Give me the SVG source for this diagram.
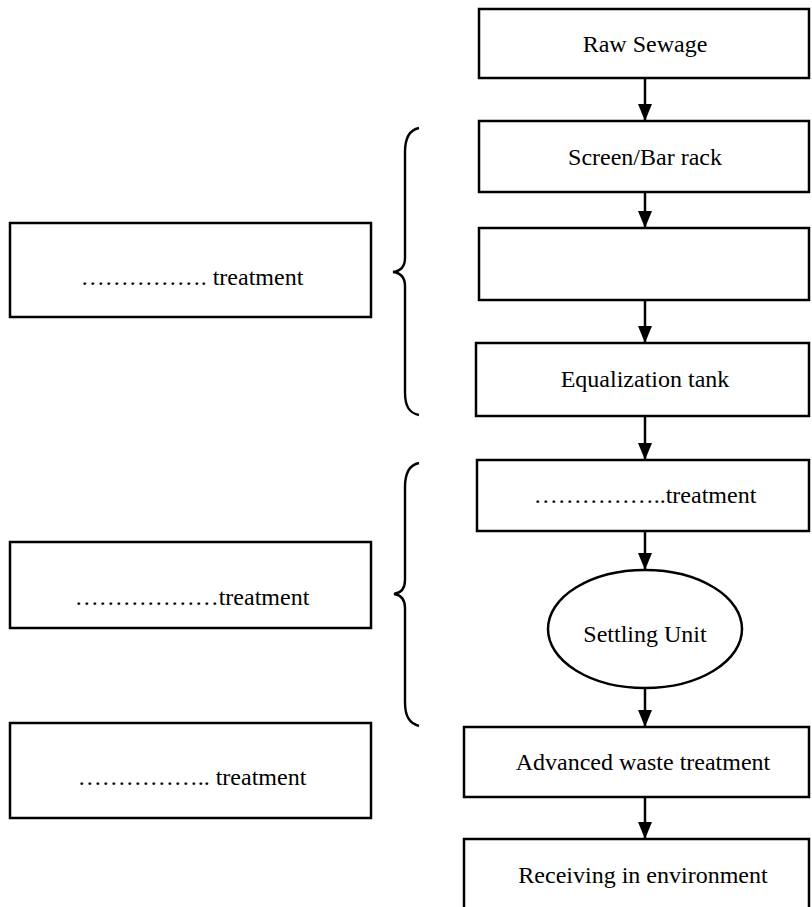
<svg xmlns="http://www.w3.org/2000/svg" width="812" height="907" viewBox="0 0 812 907">
  <defs>
    <style>
      .box { fill: #fff; stroke: #000; stroke-width: 2.5; }
      .lbl { font-family: "Liberation Serif", "Times New Roman", serif; font-size: 24px; fill: #000; text-anchor: middle; }
      .link { stroke: #000; stroke-width: 2.5; fill: none; }
      .brace { stroke: #000; stroke-width: 2.4; fill: none; }
    </style>
    <marker id="head" viewBox="0 0 17 14" refX="17" refY="7" markerWidth="17" markerHeight="14" markerUnits="userSpaceOnUse" orient="auto">
      <path d="M0,0 L17,7 L0,14 Z" fill="#000"/>
    </marker>
  </defs>
  <rect width="812" height="907" fill="#fff"/>

  <!-- process chain on the right -->
  <g id="raw-sewage">
    <rect class="box" x="479" y="9" width="330" height="69"/>
    <text class="lbl" x="645" y="52">Raw Sewage</text>
  </g>
  <g id="screen-bar-rack">
    <rect class="box" x="479" y="121" width="330" height="71"/>
    <text class="lbl" x="645" y="165">Screen/Bar rack</text>
  </g>
  <g id="blank-step">
    <rect class="box" x="479" y="228" width="330" height="72"/>
  </g>
  <g id="equalization-tank">
    <rect class="box" x="476" y="343" width="333" height="73"/>
    <text class="lbl" x="645" y="387">Equalization tank</text>
  </g>
  <g id="treatment-step">
    <rect class="box" x="477" y="460" width="332" height="71"/>
    <text class="lbl" x="645" y="503">……………..treatment</text>
  </g>
  <g id="settling-unit">
    <ellipse class="box" cx="645" cy="629" rx="97" ry="59"/>
    <text class="lbl" x="645" y="642">Settling Unit</text>
  </g>
  <g id="advanced-waste-treatment">
    <rect class="box" x="464" y="727" width="345" height="70"/>
    <text class="lbl" x="643" y="770">Advanced waste treatment</text>
  </g>
  <g id="receiving-environment">
    <rect class="box" x="464" y="839" width="345" height="80"/>
    <text class="lbl" x="643" y="883">Receiving in environment</text>
  </g>

  <!-- stage labels on the left -->
  <g id="stage-one">
    <rect class="box" x="10" y="223" width="361" height="94"/>
    <text class="lbl" x="192" y="285">……………. treatment</text>
  </g>
  <g id="stage-two">
    <rect class="box" x="10" y="542" width="361" height="86"/>
    <text class="lbl" x="192" y="605">………………treatment</text>
  </g>
  <g id="stage-three">
    <rect class="box" x="10" y="723" width="361" height="95"/>
    <text class="lbl" x="192" y="785">…………….. treatment</text>
  </g>

  <!-- braces grouping the steps -->
  <g id="braces">
    <path class="brace" d="M419,128 C409,130 405,138 405,152 L405,258 C405,266 401,271 393,272 C401,273 405,278 405,286 L405,392 C405,406 409,413 419,415"/>
    <path class="brace" d="M419,463 C409,465 405,473 405,487 L405,580 C405,588 401,593 394,594 C401,595 405,600 405,608 L405,702 C405,716 409,723 419,726"/>
  </g>

  <!-- connectors -->
  <g id="connectors">
    <line class="link" x1="645" y1="78" x2="645" y2="121" marker-end="url(#head)"/>
    <line class="link" x1="645" y1="192" x2="645" y2="228" marker-end="url(#head)"/>
    <line class="link" x1="645" y1="300" x2="645" y2="343" marker-end="url(#head)"/>
    <line class="link" x1="645" y1="416" x2="645" y2="460" marker-end="url(#head)"/>
    <line class="link" x1="645" y1="531" x2="645" y2="570" marker-end="url(#head)"/>
    <line class="link" x1="645" y1="688" x2="645" y2="727" marker-end="url(#head)"/>
    <line class="link" x1="645" y1="797" x2="645" y2="839" marker-end="url(#head)"/>
  </g>
</svg>
